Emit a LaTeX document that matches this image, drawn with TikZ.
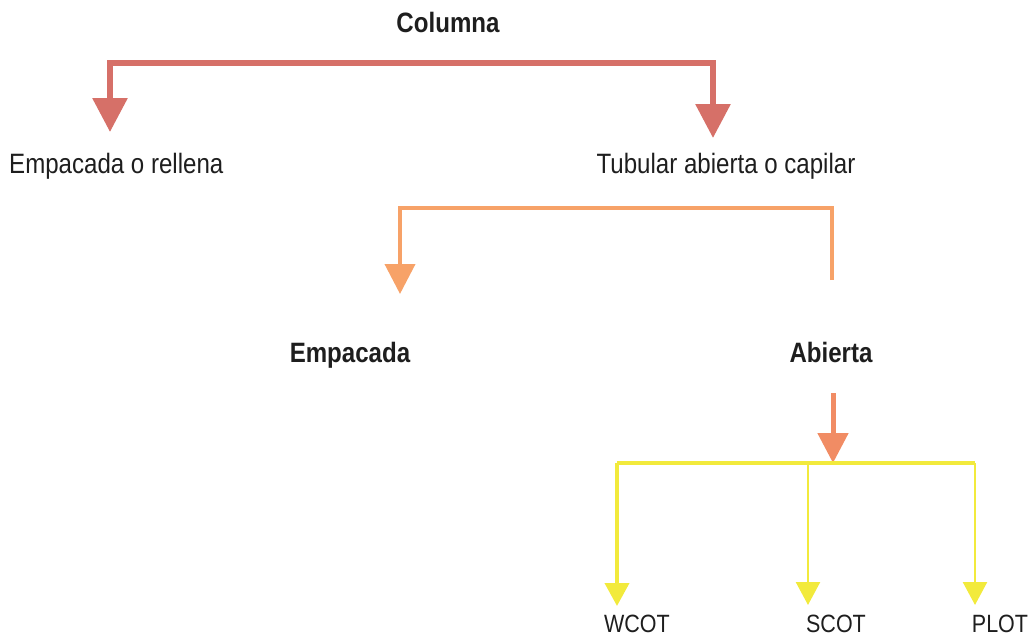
\documentclass[tikz,border=0pt]{standalone}
\usepackage{fontspec}
\setmainfont{Liberation Sans}[FakeStretch=0.86]
\usetikzlibrary{arrows.meta}
\definecolor{redc}{RGB}{214,112,104}
\definecolor{orc}{RGB}{247,162,104}
\definecolor{or2}{RGB}{241,140,100}
\definecolor{yelc}{RGB}{242,234,60}
\definecolor{txt}{RGB}{30,30,30}
\begin{document}
\begin{tikzpicture}[x=1pt,y=-1pt,
  lbl/.style={inner sep=0pt, anchor=base, text=txt, font=\fontsize{28}{32}\selectfont},
  blbl/.style={lbl, font=\fontsize{28}{32}\selectfont\bfseries},
  slbl/.style={lbl, font=\fontsize{25}{29}\selectfont},
  redline/.style={draw=redc, line width=6pt, line join=miter},
  redtip/.style={-{Triangle[width=34pt,length=34pt]}},
  orline/.style={draw=orc, line width=4pt, line join=miter},
  ortip/.style={-{Triangle[width=30pt,length=30pt]}},
  abline/.style={draw=or2, line width=5pt},
  yline/.style={draw=yelc, line width=4pt, line join=miter},
  ythin/.style={draw=yelc, line width=2.5pt},
  ytip/.style={-{Triangle[width=24pt,length=23pt]}}]
\useasboundingbox (0,0) rectangle (1029,637);

% labels
\node[blbl] (col) at (448,32) {Columna};
\node[lbl, anchor=base west] (emp) at (9,173) {Empacada o rellena};
\node[lbl] (tub) at (726,173) {Tubular abierta o capilar};
\node[blbl] (empb) at (350,362) {Empacada};
\node[blbl] (abi) at (831,362) {Abierta};
\node[slbl] (wcot) at (637,632) {WCOT};
\node[slbl] (scot) at (836,632) {SCOT};
\node[slbl] (plot) at (1000,632) {PLOT};

% first level: Columna
\coordinate (rL) at (110,63);
\coordinate (rR) at (713,63);
\coordinate (rLtip) at (110,132);
\coordinate (rRtip) at (713,138);
\draw[redline, redtip] (rR) -- (rL) -- (rLtip);
\draw[redline, redtip] (rL) -- (rR) -- (rRtip);

% second level: tubular columns
\coordinate (oR) at (832,280);
\coordinate (oC) at (832,208);
\coordinate (oLtip) at (400,294);
\draw[orline, ortip] (oR) -- (oC) -| (oLtip);

% open column types
\coordinate (aTop) at (833,393);
\coordinate (yJ) at (833,463);
\draw[abline, ortip] (aTop) -- (yJ);

\coordinate (yL) at (617,463);
\coordinate (yM) at (808,463);
\coordinate (yR) at (975,463);
\draw[yline] (yL) -- (yR);
\draw[yline, ytip] (yL) -- (617,606);
\draw[ythin, ytip] (yM) -- (808,605);
\draw[ythin, ytip] (yR) -- (975,605);
\end{tikzpicture}
\end{document}
